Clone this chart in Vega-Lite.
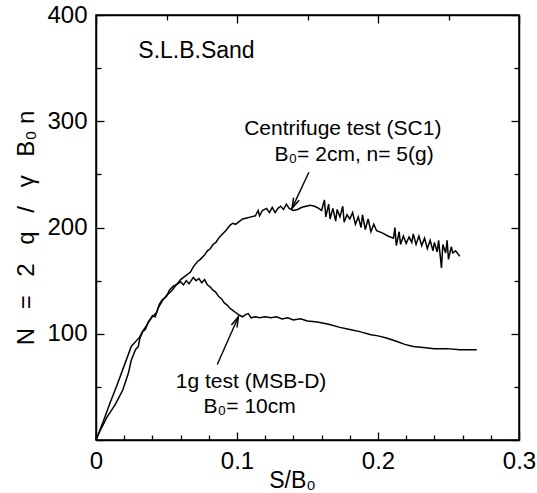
{
  "$schema": "https://vega.github.io/schema/vega-lite/v6.json",
  "width": 423,
  "height": 425,
  "autosize": "none",
  "padding": {"left": 96, "top": 15, "right": 18, "bottom": 53},
  "background": "white",
  "config": {
    "view": {"stroke": "black", "strokeWidth": 1.5},
    "font": "Liberation Sans",
    "axis": {
      "grid": false,
      "domainColor": "black",
      "domainWidth": 1.5,
      "tickColor": "black",
      "tickWidth": 1.3,
      "labelColor": "black",
      "titleColor": "black",
      "labelFont": "Liberation Sans",
      "titleFont": "Liberation Sans",
      "labelFontSize": 24,
      "titleFontSize": 23,
      "titleFontWeight": "normal",
      "labelFlush": false,
      "labelOverlap": false
    }
  },
  "datasets": {
    "curves": [
      {"series": "SC1", "x": 0, "y": 0},
      {"series": "SC1", "x": 0.005, "y": 17},
      {"series": "SC1", "x": 0.010, "y": 35},
      {"series": "SC1", "x": 0.015, "y": 52},
      {"series": "SC1", "x": 0.020, "y": 70},
      {"series": "SC1", "x": 0.025, "y": 88},
      {"series": "SC1", "x": 0.029, "y": 94},
      {"series": "SC1", "x": 0.031, "y": 97},
      {"series": "SC1", "x": 0.033, "y": 102},
      {"series": "SC1", "x": 0.036, "y": 108},
      {"series": "SC1", "x": 0.040, "y": 117},
      {"series": "SC1", "x": 0.042, "y": 116},
      {"series": "SC1", "x": 0.044, "y": 124},
      {"series": "SC1", "x": 0.047, "y": 131},
      {"series": "SC1", "x": 0.050, "y": 136},
      {"series": "SC1", "x": 0.054, "y": 141},
      {"series": "SC1", "x": 0.057, "y": 146},
      {"series": "SC1", "x": 0.060, "y": 151},
      {"series": "SC1", "x": 0.063, "y": 154},
      {"series": "SC1", "x": 0.067, "y": 158},
      {"series": "SC1", "x": 0.069, "y": 163},
      {"series": "SC1", "x": 0.072, "y": 168},
      {"series": "SC1", "x": 0.074, "y": 170},
      {"series": "SC1", "x": 0.077, "y": 174},
      {"series": "SC1", "x": 0.079, "y": 178},
      {"series": "SC1", "x": 0.081, "y": 180},
      {"series": "SC1", "x": 0.083, "y": 184},
      {"series": "SC1", "x": 0.085, "y": 186},
      {"series": "SC1", "x": 0.087, "y": 190},
      {"series": "SC1", "x": 0.089, "y": 193},
      {"series": "SC1", "x": 0.092, "y": 197},
      {"series": "SC1", "x": 0.095, "y": 202},
      {"series": "SC1", "x": 0.097, "y": 204},
      {"series": "SC1", "x": 0.099, "y": 203},
      {"series": "SC1", "x": 0.101, "y": 205},
      {"series": "SC1", "x": 0.104, "y": 208},
      {"series": "SC1", "x": 0.107, "y": 209},
      {"series": "SC1", "x": 0.110, "y": 210},
      {"series": "SC1", "x": 0.113, "y": 211},
      {"series": "SC1", "x": 0.115, "y": 216},
      {"series": "SC1", "x": 0.116, "y": 211},
      {"series": "SC1", "x": 0.118, "y": 216},
      {"series": "SC1", "x": 0.121, "y": 218},
      {"series": "SC1", "x": 0.123, "y": 214},
      {"series": "SC1", "x": 0.125, "y": 219},
      {"series": "SC1", "x": 0.127, "y": 214},
      {"series": "SC1", "x": 0.129, "y": 218},
      {"series": "SC1", "x": 0.131, "y": 220},
      {"series": "SC1", "x": 0.133, "y": 217},
      {"series": "SC1", "x": 0.135, "y": 222},
      {"series": "SC1", "x": 0.137, "y": 218},
      {"series": "SC1", "x": 0.140, "y": 216},
      {"series": "SC1", "x": 0.143, "y": 217},
      {"series": "SC1", "x": 0.146, "y": 219},
      {"series": "SC1", "x": 0.149, "y": 220},
      {"series": "SC1", "x": 0.152, "y": 221},
      {"series": "SC1", "x": 0.155, "y": 220},
      {"series": "SC1", "x": 0.158, "y": 218},
      {"series": "SC1", "x": 0.160, "y": 216},
      {"series": "SC1", "x": 0.162, "y": 226},
      {"series": "SC1", "x": 0.163, "y": 210},
      {"series": "SC1", "x": 0.165, "y": 222},
      {"series": "SC1", "x": 0.166, "y": 208},
      {"series": "SC1", "x": 0.168, "y": 218},
      {"series": "SC1", "x": 0.170, "y": 206},
      {"series": "SC1", "x": 0.171, "y": 217},
      {"series": "SC1", "x": 0.173, "y": 210},
      {"series": "SC1", "x": 0.175, "y": 220},
      {"series": "SC1", "x": 0.176, "y": 205},
      {"series": "SC1", "x": 0.178, "y": 212},
      {"series": "SC1", "x": 0.180, "y": 208},
      {"series": "SC1", "x": 0.182, "y": 214},
      {"series": "SC1", "x": 0.184, "y": 203},
      {"series": "SC1", "x": 0.186, "y": 210},
      {"series": "SC1", "x": 0.188, "y": 200},
      {"series": "SC1", "x": 0.189, "y": 212},
      {"series": "SC1", "x": 0.191, "y": 198},
      {"series": "SC1", "x": 0.193, "y": 208},
      {"series": "SC1", "x": 0.195, "y": 196},
      {"series": "SC1", "x": 0.197, "y": 203},
      {"series": "SC1", "x": 0.199, "y": 197},
      {"series": "SC1", "x": 0.203, "y": 195},
      {"series": "SC1", "x": 0.207, "y": 192},
      {"series": "SC1", "x": 0.211, "y": 190},
      {"series": "SC1", "x": 0.212, "y": 200},
      {"series": "SC1", "x": 0.213, "y": 183},
      {"series": "SC1", "x": 0.215, "y": 196},
      {"series": "SC1", "x": 0.216, "y": 184},
      {"series": "SC1", "x": 0.218, "y": 192},
      {"series": "SC1", "x": 0.220, "y": 185},
      {"series": "SC1", "x": 0.222, "y": 191},
      {"series": "SC1", "x": 0.224, "y": 186},
      {"series": "SC1", "x": 0.225, "y": 194},
      {"series": "SC1", "x": 0.227, "y": 184},
      {"series": "SC1", "x": 0.229, "y": 192},
      {"series": "SC1", "x": 0.231, "y": 183},
      {"series": "SC1", "x": 0.233, "y": 190},
      {"series": "SC1", "x": 0.235, "y": 180},
      {"series": "SC1", "x": 0.237, "y": 188},
      {"series": "SC1", "x": 0.239, "y": 178},
      {"series": "SC1", "x": 0.240, "y": 186},
      {"series": "SC1", "x": 0.242, "y": 177},
      {"series": "SC1", "x": 0.243, "y": 188},
      {"series": "SC1", "x": 0.245, "y": 162},
      {"series": "SC1", "x": 0.246, "y": 184},
      {"series": "SC1", "x": 0.248, "y": 176},
      {"series": "SC1", "x": 0.249, "y": 188},
      {"series": "SC1", "x": 0.250, "y": 170},
      {"series": "SC1", "x": 0.252, "y": 182},
      {"series": "SC1", "x": 0.253, "y": 176},
      {"series": "SC1", "x": 0.255, "y": 178},
      {"series": "SC1", "x": 0.258, "y": 173},
      {"series": "1g", "x": 0, "y": 0},
      {"series": "1g", "x": 0.003, "y": 9},
      {"series": "1g", "x": 0.008, "y": 22},
      {"series": "1g", "x": 0.0135, "y": 33},
      {"series": "1g", "x": 0.019, "y": 47},
      {"series": "1g", "x": 0.023, "y": 63},
      {"series": "1g", "x": 0.025, "y": 75},
      {"series": "1g", "x": 0.028, "y": 85},
      {"series": "1g", "x": 0.030, "y": 88},
      {"series": "1g", "x": 0.031, "y": 95},
      {"series": "1g", "x": 0.033, "y": 102},
      {"series": "1g", "x": 0.035, "y": 104},
      {"series": "1g", "x": 0.037, "y": 111},
      {"series": "1g", "x": 0.040, "y": 116},
      {"series": "1g", "x": 0.043, "y": 120},
      {"series": "1g", "x": 0.045, "y": 128},
      {"series": "1g", "x": 0.047, "y": 132},
      {"series": "1g", "x": 0.050, "y": 135},
      {"series": "1g", "x": 0.052, "y": 141},
      {"series": "1g", "x": 0.055, "y": 145},
      {"series": "1g", "x": 0.058, "y": 147},
      {"series": "1g", "x": 0.060, "y": 149},
      {"series": "1g", "x": 0.062, "y": 146},
      {"series": "1g", "x": 0.064, "y": 150},
      {"series": "1g", "x": 0.066, "y": 147},
      {"series": "1g", "x": 0.069, "y": 153},
      {"series": "1g", "x": 0.071, "y": 150},
      {"series": "1g", "x": 0.073, "y": 152},
      {"series": "1g", "x": 0.075, "y": 148},
      {"series": "1g", "x": 0.077, "y": 151},
      {"series": "1g", "x": 0.079, "y": 146},
      {"series": "1g", "x": 0.081, "y": 144},
      {"series": "1g", "x": 0.083, "y": 141},
      {"series": "1g", "x": 0.085, "y": 139},
      {"series": "1g", "x": 0.087, "y": 135},
      {"series": "1g", "x": 0.089, "y": 133},
      {"series": "1g", "x": 0.091, "y": 129},
      {"series": "1g", "x": 0.093, "y": 127},
      {"series": "1g", "x": 0.095, "y": 124},
      {"series": "1g", "x": 0.097, "y": 122},
      {"series": "1g", "x": 0.099, "y": 120},
      {"series": "1g", "x": 0.101, "y": 118},
      {"series": "1g", "x": 0.104, "y": 116},
      {"series": "1g", "x": 0.106, "y": 118},
      {"series": "1g", "x": 0.108, "y": 119},
      {"series": "1g", "x": 0.110, "y": 115},
      {"series": "1g", "x": 0.113, "y": 116},
      {"series": "1g", "x": 0.116, "y": 115},
      {"series": "1g", "x": 0.120, "y": 116},
      {"series": "1g", "x": 0.124, "y": 115},
      {"series": "1g", "x": 0.128, "y": 116},
      {"series": "1g", "x": 0.132, "y": 114},
      {"series": "1g", "x": 0.136, "y": 115},
      {"series": "1g", "x": 0.140, "y": 113},
      {"series": "1g", "x": 0.145, "y": 114},
      {"series": "1g", "x": 0.150, "y": 112},
      {"series": "1g", "x": 0.157, "y": 111},
      {"series": "1g", "x": 0.165, "y": 109},
      {"series": "1g", "x": 0.173, "y": 106},
      {"series": "1g", "x": 0.180, "y": 104},
      {"series": "1g", "x": 0.187, "y": 102},
      {"series": "1g", "x": 0.195, "y": 99},
      {"series": "1g", "x": 0.200, "y": 98},
      {"series": "1g", "x": 0.206, "y": 96},
      {"series": "1g", "x": 0.213, "y": 93},
      {"series": "1g", "x": 0.219, "y": 90},
      {"series": "1g", "x": 0.225, "y": 88},
      {"series": "1g", "x": 0.232, "y": 87},
      {"series": "1g", "x": 0.240, "y": 86},
      {"series": "1g", "x": 0.249, "y": 86},
      {"series": "1g", "x": 0.258, "y": 85},
      {"series": "1g", "x": 0.270, "y": 85}
    ],
    "labels": [
      {"x": 0.175, "y": 293, "text": "Centrifuge test (SC1)"},
      {"x": 0.183, "y": 268, "text": "B₀= 2cm, n= 5(g)"},
      {"x": 0.110, "y": 55, "text": "1g test (MSB-D)"},
      {"x": 0.109, "y": 31, "text": "B₀= 10cm"}
    ],
    "title": [
      {"x": 0.030, "y": 366, "text": "S.L.B.Sand"}
    ],
    "arrows": [
      {"id": "a1", "x": 0.151, "y": 252, "x2": 0.139, "y2": 218},
      {"id": "a2", "x": 0.086, "y": 71, "x2": 0.101, "y2": 116}
    ]
  },
  "resolve": {"axis": {"x": "independent", "y": "independent"}},
  "layer": [
    {
      "data": {"name": "curves"},
      "mark": {"type": "line", "color": "black", "strokeWidth": 1.5},
      "encoding": {
        "x": {
          "field": "x", "type": "quantitative",
          "scale": {"domain": [0, 0.3], "nice": false, "zero": false},
          "axis": {
            "orient": "bottom",
            "title": "S/B₀",
            "titleX": 196,
            "titleY": 29,
            "titleBaseline": "top",
            "values": [0, 0.02, 0.04, 0.06, 0.08, 0.1, 0.12, 0.14, 0.16, 0.18, 0.2, 0.22, 0.24, 0.26, 0.28, 0.3],
            "labelExpr": "abs(datum.value*10 - round(datum.value*10)) < 0.001 ? (datum.value == 0 ? '0' : format(datum.value, '.1f')) : ''",
            "tickSize": {"condition": {"test": "abs(datum.value*10 - round(datum.value*10)) < 0.001", "value": -8}, "value": -5},
            "labelPadding": 17
          }
        },
        "y": {
          "field": "y", "type": "quantitative",
          "scale": {"domain": [0, 400], "nice": false},
          "axis": {
            "orient": "left",
            "title": "N\u2002 =\u2002 2\u2002 q\u2002 /\u2002 γ\u2002 B₀ n",
            "titleFontSize": 24,
            "titlePadding": 8,
            "values": [0, 50, 100, 150, 200, 250, 300, 350, 400],
            "labelExpr": "datum.value > 0 && datum.value % 100 == 0 ? datum.label : ''",
            "tickSize": {"condition": {"test": "datum.value % 100 == 0", "value": -8}, "value": -5},
            "labelPadding": 17
          }
        },
        "detail": {"field": "series"}
      }
    },
    {
      "data": {"name": "arrows"},
      "mark": {"type": "rule", "color": "black", "strokeWidth": 1.4},
      "encoding": {
        "x": {
          "field": "x", "type": "quantitative",
          "axis": {
            "orient": "top", "title": null, "labels": false,
            "values": [0, 0.05, 0.1, 0.15, 0.2, 0.25, 0.3],
            "tickSize": {"condition": {"test": "abs(datum.value*10 - round(datum.value*10)) < 0.001", "value": -8}, "value": -5}
          }
        },
        "y": {
          "field": "y", "type": "quantitative",
          "axis": {
            "orient": "right", "title": null, "labels": false,
            "values": [0, 50, 100, 150, 200, 250, 300, 350, 400],
            "tickSize": {"condition": {"test": "datum.value % 100 == 0", "value": -8}, "value": -5}
          }
        },
        "x2": {"field": "x2"},
        "y2": {"field": "y2"}
      }
    },
    {
      "data": {"name": "arrows"},
      "transform": [{"filter": "datum.id == 'a1'"}],
      "mark": {"type": "point", "shape": "M-0.35,1.2L0,0L0.35,1.2", "filled": false, "stroke": "black", "strokeWidth": 1.5, "size": 300, "angle": 205, "opacity": 1},
      "encoding": {
        "x": {"field": "x2", "type": "quantitative", "axis": null},
        "y": {"field": "y2", "type": "quantitative", "axis": null}
      }
    },
    {
      "data": {"name": "arrows"},
      "transform": [{"filter": "datum.id == 'a2'"}],
      "mark": {"type": "point", "shape": "M-0.35,1.2L0,0L0.35,1.2", "filled": false, "stroke": "black", "strokeWidth": 1.5, "size": 300, "angle": 24, "opacity": 1},
      "encoding": {
        "x": {"field": "x2", "type": "quantitative", "axis": null},
        "y": {"field": "y2", "type": "quantitative", "axis": null}
      }
    },
    {
      "data": {"name": "labels"},
      "mark": {"type": "text", "fontSize": 21, "color": "black", "align": "center", "baseline": "middle", "font": "Liberation Sans"},
      "encoding": {
        "x": {"field": "x", "type": "quantitative", "axis": null},
        "y": {"field": "y", "type": "quantitative", "axis": null},
        "text": {"field": "text"}
      }
    },
    {
      "data": {"name": "title"},
      "mark": {"type": "text", "fontSize": 23, "color": "black", "align": "left", "baseline": "middle", "font": "Liberation Sans"},
      "encoding": {
        "x": {"field": "x", "type": "quantitative", "axis": null},
        "y": {"field": "y", "type": "quantitative", "axis": null},
        "text": {"field": "text"}
      }
    }
  ]
}
